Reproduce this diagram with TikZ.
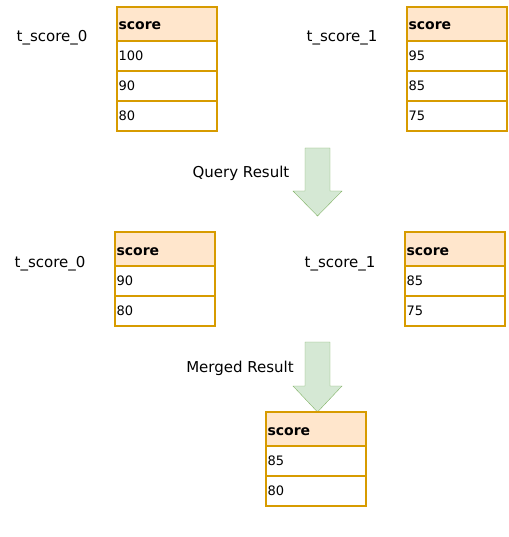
\documentclass[tikz,border=0pt]{standalone}
\usepackage{fontspec}
\setmainfont{DejaVu Sans}
\usepackage{tikz}
\usetikzlibrary{positioning}
\definecolor{hdrorange}{HTML}{FFE6CC}
\definecolor{lineorange}{HTML}{D79B00}
\definecolor{arrgreen}{HTML}{D5E8D4}
\definecolor{linegreen}{HTML}{82B366}
\tikzstyle{header} = [rectangle, minimum height=34pt, text width=97pt, text height=12pt, text depth=0pt, inner xsep=1.5pt, inner ysep=0pt, outer sep=0pt, align=left, line width=1.2pt, draw=lineorange, fill=hdrorange, font=\fontsize{14}{16}\selectfont\bfseries]
\tikzstyle{row} = [rectangle, minimum height=30pt, text width=97pt, inner xsep=1.5pt, inner ysep=0pt, outer sep=0pt, align=left, line width=1.2pt, draw=lineorange, fill=white, font=\fontsize{13}{15}\selectfont]
\tikzstyle{tname} = [font=\fontsize{15}{17}\selectfont]
\tikzstyle{step arrow} = [draw=linegreen, fill=arrgreen]

\begin{document}
\begin{tikzpicture}
			[x=1pt, y=-1pt]
			\useasboundingbox (0,0) rectangle (508,537);

			% query result, both shards
			\node (lblA) [tname] at (52,38) {t\_score\_0};
			\node (hdrA) [header, anchor=north west] at (117,7) {score};
			\node (rowAa) [row, below=0pt of hdrA] {100};
			\node (rowAb) [row, below=0pt of rowAa] {90};
			\node (rowAc) [row, below=0pt of rowAb] {80};

			\node (lblB) [tname] at (342,38) {t\_score\_1};
			\node (hdrB) [header, anchor=north west] at (407,7) {score};
			\node (rowBa) [row, below=0pt of hdrB] {95};
			\node (rowBb) [row, below=0pt of rowBa] {85};
			\node (rowBc) [row, below=0pt of rowBb] {75};

			\coordinate (qtop) at (317.5,148);
			\draw [step arrow, shift={(qtop)}] (-12.5,0) -- (12.5,0) -- (12.5,43) -- (24.5,43) -- (0,68) -- (-24.5,43) -- (-12.5,43) -- cycle;
			\node (query) [tname] at (241,173) {Query Result};

			\node (lblC) [tname] at (50,264) {t\_score\_0};
			\node (hdrC) [header, anchor=north west] at (115,232) {score};
			\node (rowCa) [row, below=0pt of hdrC] {90};
			\node (rowCb) [row, below=0pt of rowCa] {80};

			\node (lblD) [tname] at (340,264) {t\_score\_1};
			\node (hdrD) [header, anchor=north west] at (405,232) {score};
			\node (rowDa) [row, below=0pt of hdrD] {85};
			\node (rowDb) [row, below=0pt of rowDa] {75};

			% merged result
			\coordinate (mtop) at (317.5,342);
			\draw [step arrow, shift={(mtop)}] (-12.5,0) -- (12.5,0) -- (12.5,44) -- (24.5,44) -- (0,70) -- (-24.5,44) -- (-12.5,44) -- cycle;
			\node (merged) [tname] at (240,368) {Merged Result};

			\node (hdrE) [header, anchor=north west] at (266,412) {score};
			\node (rowEa) [row, below=0pt of hdrE] {85};
			\node (rowEb) [row, below=0pt of rowEa] {80};

			\end{tikzpicture}
\end{document}
